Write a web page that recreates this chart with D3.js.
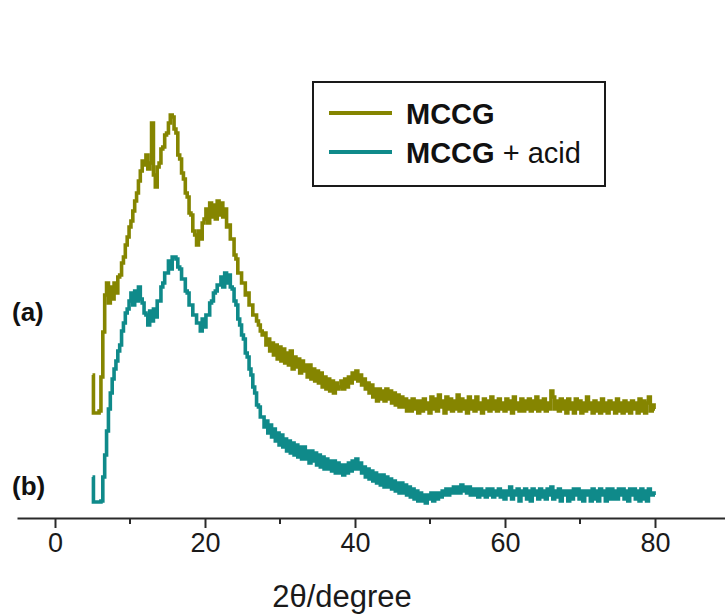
<!DOCTYPE html>
<html>
<head>
<meta charset="utf-8">
<script src="https://cdn.jsdelivr.net/npm/d3@7"></script>
<style>
  html, body { margin: 0; padding: 0; background: #fff; }
  svg { display: block; font-family: "Liberation Sans", Arial, sans-serif; }
</style>
</head>
<body>
<svg id="chart" width="725" height="616"></svg>
<script>
// scan settings: 5° to 80° in 0.25° steps
const scanStart = 5;
const scanStep = 0.25;

// intensities (a.u.), one row per 5°
const mccg = [
  142,104,104,104,106,140,185,222,234,214,230,218,234,224,240,242,254,260,272,280,
  290,296,306,316,324,336,346,356,352,362,348,354,394,342,330,350,354,368,370,382,
  384,394,402,400,388,384,362,358,344,338,324,320,304,302,286,282,272,286,278,294,
  298,308,294,314,300,312,298,316,302,314,300,308,290,292,278,278,262,258,244,244,
  234,234,222,224,212,212,202,202,196,192,186,182,184,172,178,166,174,162,172,158,
  170,156,168,154,164,152,166,148,160,150,158,144,156,146,152,140,152,138,148,136,
  146,134,144,130,140,128,138,126,136,124,134,128,130,136,128,138,130,140,134,144,
  138,146,136,142,132,138,128,134,124,132,120,128,116,128,118,126,116,128,118,126,
  114,124,112,122,110,120,110,118,106,116,106,118,108,116,104,116,106,118,108,114,
  104,120,108,118,106,122,110,116,104,120,108,118,106,116,108,122,106,118,108,116,
  104,120,108,116,106,120,108,114,104,118,108,116,106,120,108,116,106,118,108,114,
  106,118,108,116,104,120,108,114,106,118,106,116,108,118,106,116,108,120,106,116,
  108,118,106,114,108,126,120,108,116,106,118,108,116,104,118,108,114,104,118,108,
  116,104,114,106,120,108,114,104,116,106,114,104,118,106,114,104,116,108,114,104,
  118,106,114,104,116,106,114,104,116,108,114,104,118,106,116,104,114,120,106,112,
  108
];

const mccgAcid = [
  40,15,15,15,15,16,40,62,86,108,124,138,148,156,166,172,186,194,204,208,
  216,224,212,226,216,230,218,214,204,202,192,206,196,208,200,216,216,230,234,244,
  244,256,248,260,260,258,250,248,238,238,226,224,212,212,202,202,194,194,186,198,
  190,202,202,214,216,224,226,232,232,240,230,244,234,242,230,228,216,212,198,192,
  182,178,164,160,148,142,130,124,112,110,100,100,90,96,84,92,80,88,76,84,
  72,82,70,78,66,76,64,74,62,72,60,70,58,70,58,66,54,66,56,64,
  52,62,50,60,48,58,48,56,46,56,44,54,44,52,42,52,44,54,46,56,
  48,58,48,54,44,50,40,48,38,46,36,44,34,42,32,42,30,40,30,38,
  28,36,26,34,24,34,24,32,22,30,20,28,18,26,16,24,16,22,14,22,
  18,24,16,24,18,24,20,26,22,28,22,28,24,30,24,30,24,32,26,30,
  24,30,22,28,22,28,20,28,22,26,20,28,22,28,20,26,22,28,20,26,
  18,26,22,30,18,26,22,28,16,26,22,28,18,26,16,28,22,26,18,28,
  20,26,18,28,22,30,18,26,20,28,16,26,22,26,16,26,18,28,22,28,
  18,26,16,26,22,26,16,28,18,26,16,28,22,26,16,28,18,28,18,26,
  18,28,22,28,18,26,16,28,22,28,18,26,16,28,18,26,16,28,22,24,
  22
];

const xTicks = [0, 20, 40, 60, 80];
const xMinorTicks = [10, 30, 50, 70];
const seriesNames = ["MCCG", "MCCG + acid"];
const seriesColors = ["#858500", "#0f8a8a"];
const traceLabels = ["(a)", "(b)"];

const svg = d3.select("#chart");

const x = d3.scaleLinear().domain([0, 80]).range([55, 655]);
const y = d3.scaleLinear().domain([0, 420]).range([517, 97]);

const toPoints = vals => vals.map((v, i) => [scanStart + i * scanStep, v]);

const line = d3.line()
  .x(d => x(d[0]))
  .y(d => y(d[1]))
  .curve(d3.curveStep);

[mccg, mccgAcid].forEach((vals, i) => {
  svg.append("path")
    .datum(toPoints(vals))
    .attr("fill", "none")
    .attr("stroke", seriesColors[i])
    .attr("stroke-width", 3.6)
    .attr("stroke-linejoin", "miter")
    .attr("d", line);
});

// x axis, line runs across the whole width
const xAxisScale = x.copy().domain([x.invert(17), x.invert(725)]).range([17, 725]);
const axisG = svg.append("g")
  .attr("transform", "translate(0,518)")
  .call(d3.axisBottom(xAxisScale).tickValues(xTicks).tickSize(10).tickSizeOuter(0).tickPadding(5));
axisG.select(".domain").attr("stroke", "#2a2a2a").attr("stroke-width", 2);
axisG.selectAll(".tick line").attr("stroke", "#2a2a2a").attr("stroke-width", 2);
axisG.selectAll(".tick text")
  .attr("font-size", 27)
  .attr("fill", "#1a1a1a")
  .attr("font-family", "Liberation Sans, Arial, sans-serif");

axisG.selectAll(".minor")
  .data(xMinorTicks)
  .enter().append("line")
  .attr("x1", d => xAxisScale(d))
  .attr("x2", d => xAxisScale(d))
  .attr("y1", 0)
  .attr("y2", 6)
  .attr("stroke", "#2a2a2a")
  .attr("stroke-width", 2);

svg.append("text")
  .attr("x", 342)
  .attr("y", 607)
  .attr("text-anchor", "middle")
  .attr("font-size", 31)
  .attr("fill", "#1a1a1a")
  .text("2θ/degree");

// trace labels
svg.selectAll(".tlabel")
  .data(traceLabels)
  .enter().append("text")
  .attr("x", 12)
  .attr("y", (d, i) => i === 0 ? 321 : 495)
  .attr("font-size", 26)
  .attr("font-weight", "bold")
  .attr("fill", "#111")
  .text(d => d);

// legend
const legend = svg.append("g");
legend.append("rect")
  .attr("x", 313).attr("y", 82)
  .attr("width", 292).attr("height", 104)
  .attr("fill", "#fff")
  .attr("stroke", "#1a1a1a")
  .attr("stroke-width", 2);

seriesNames.forEach((name, i) => {
  const ly = 113 + i * 39;
  legend.append("line")
    .attr("x1", 329).attr("x2", 392)
    .attr("y1", ly).attr("y2", ly)
    .attr("stroke", seriesColors[i])
    .attr("stroke-width", 4);
  const t = legend.append("text")
    .attr("x", 406)
    .attr("y", ly + 11)
    .attr("font-size", 29)
    .attr("fill", "#111");
  t.append("tspan").attr("font-weight", "bold").text("MCCG");
  if (name.length > 4) t.append("tspan").text(name.slice(4));
});
</script>
</body>
</html>
